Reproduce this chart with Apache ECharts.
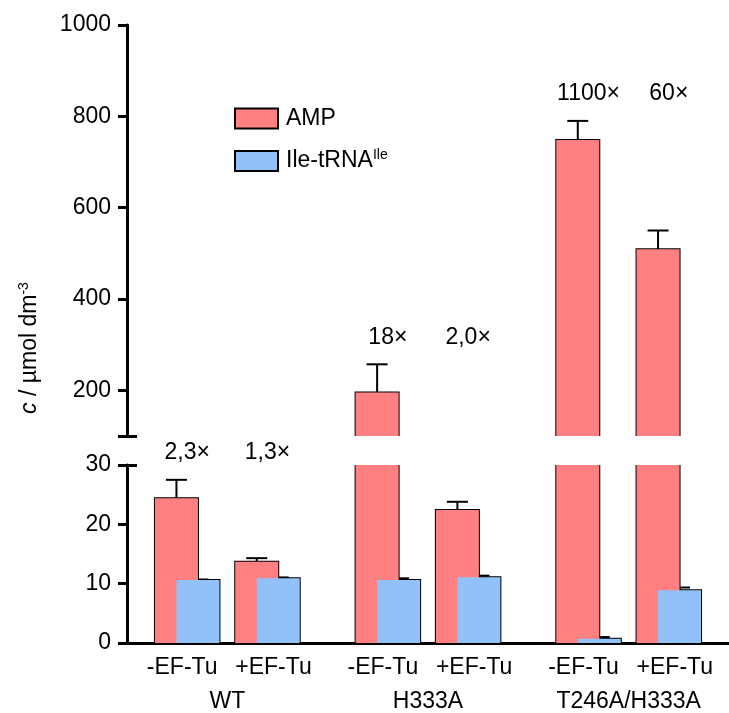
<!DOCTYPE html>
<html>
<head>
<meta charset="utf-8">
<script src="https://cdn.jsdelivr.net/npm/echarts@6/dist/echarts.min.js"></script>
<style>
html, body { margin: 0; padding: 0; background: #fff; }
#chart { width: 729px; height: 713px; }
</style>
</head>
<body>
<div id="chart"></div>
<script>
// values
const groups = ['WT', 'H333A', 'T246A/H333A']
const conditions = ['-EF-Tu', '+EF-Tu']
const ampValues = [24.4, 13.7, 195, 22.4, 748, 509]
const ampErrors = [3.1, 0.6, 62, 1.4, 42, 41]
const ileValues = [10.6, 10.9, 10.6, 11.1, 0.7, 8.9]
const ileErrors = [0.1, 0.15, 0.3, 0.25, 0.3, 0.45]
const foldLabels = ['2,3×', '1,3×', '18×', '2,0×', '1100×', '60×']
const upperTicks = [200, 400, 600, 800, 1000]
const upperRange = [100, 1000]
const lowerRange = [0, 30]

const FONT = 'Liberation Sans, Arial, sans-serif'
const FS = 23
const RED = '#ff8080'
const BLUE = '#92c0f8'
const BAR_WIDTH = 43
const CAP = 21
const SLOTS = 15

// each group takes 5 slots: gap, -EF-Tu, centre, +EF-Tu, gap
const slotOf = (i) => 1 + 5 * Math.floor(i / 2) + 2 * (i % 2)
const groupSlot = (g) => 2 + 5 * g

const conditionAxis = new Array(SLOTS).fill('')
const groupAxis = new Array(SLOTS).fill('')
const ampData = new Array(SLOTS).fill('-')
const ileData = new Array(SLOTS).fill('-')
groups.forEach((g, gi) => { groupAxis[groupSlot(gi)] = g })
ampValues.forEach((v, i) => {
  conditionAxis[slotOf(i)] = conditions[i % 2]
  ampData[slotOf(i)] = v
  ileData[slotOf(i)] = ileValues[i]
})
const ampOutline = ampValues.map((v, i) => [slotOf(i), v])
const ileOutline = ileValues.map((v, i) => [slotOf(i), v])

// error bars: [slot, value, error, side]
const errUpper = []
const errLower = []
ampValues.forEach((v, i) => {
  const item = [slotOf(i), v, ampErrors[i], -1];
  (v >= upperRange[0] ? errUpper : errLower).push(item)
  errLower.push([slotOf(i), ileValues[i], ileErrors[i], 1])
})

// fold labels sit above the highest error cap of their group
const foldUpper = []
const foldLower = []
foldLabels.forEach((t, i) => {
  const g = Math.floor(i / 2)
  let top = 0
  for (let k = 2 * g; k < 2 * g + 2; k++) {
    top = Math.max(top, ampValues[k] + ampErrors[k], ileValues[k] + ileErrors[k])
  }
  const item = { value: [slotOf(i), top], name: t };
  (top >= upperRange[0] ? foldUpper : foldLower).push(item)
})

// bar border drawn as open outline so the axis break leaves no edge
const outlineItem = (side) => (params, api) => {
  const slot = api.value(0)
  const top = api.coord([slot, api.value(1)])
  const bottom = api.coord([slot, 0])
  const cx = top[0] + side * BAR_WIDTH / 4
  const l = cx - BAR_WIDTH / 2
  const r = cx + BAR_WIDTH / 2
  return {
    type: 'polyline',
    shape: { points: [[l, bottom[1]], [l, top[1]], [r, top[1]], [r, bottom[1]]] },
    style: { stroke: '#000', lineWidth: 2, fill: null }
  }
}

function errorBarItem(params, api) {
  const slot = api.value(0)
  const v = api.value(1)
  const e = api.value(2)
  const side = api.value(3)
  const base = api.coord([slot, v])
  const tip = api.coord([slot, v + e])
  const x = base[0] + side * BAR_WIDTH / 4
  const style = { stroke: '#000', lineWidth: 2 }
  return {
    type: 'group',
    children: [
      { type: 'line', shape: { x1: x, y1: base[1], x2: x, y2: tip[1] }, style },
      { type: 'line', shape: { x1: x - CAP / 2, y1: tip[1], x2: x + CAP / 2, y2: tip[1] }, style }
    ]
  }
}

const foldItem = (list) => (params, api) => {
  const p = api.coord([api.value(0), api.value(1)])
  return {
    type: 'text',
    x: p[0],
    y: p[1] - 27,
    style: {
      text: list[params.dataIndex].name,
      font: FS + 'px ' + FONT,
      fill: '#000',
      align: 'center',
      verticalAlign: 'middle'
    }
  }
}

const axisLineStyle = { color: '#000', width: 3 }

function barPair(xi, yi) {
  return [
    { name: 'AMP', type: 'bar', xAxisIndex: xi, yAxisIndex: yi, data: ampData, barWidth: BAR_WIDTH, barGap: '-50%', itemStyle: { color: RED } },
    { type: 'custom', xAxisIndex: xi, yAxisIndex: yi, data: ampOutline, renderItem: outlineItem(-1), clip: true },
    { name: 'Ile-tRNA', type: 'bar', xAxisIndex: xi, yAxisIndex: yi, data: ileData, barWidth: BAR_WIDTH, barGap: '-50%', itemStyle: { color: BLUE } },
    { type: 'custom', xAxisIndex: xi, yAxisIndex: yi, data: ileOutline, renderItem: outlineItem(1), clip: true }
  ]
}

const chart = echarts.init(document.getElementById('chart'))
chart.setOption({
  animation: false,
  textStyle: { fontFamily: FONT },
  grid: [
    { left: 127, top: 25, width: 615, height: 411 },
    { left: 127, top: 465, width: 615, height: 178 }
  ],
  legend: {
    left: 229,
    top: 102,
    orient: 'vertical',
    icon: 'rect',
    itemWidth: 43,
    itemHeight: 20,
    itemGap: 18,
    data: ['AMP', 'Ile-tRNA'],
    itemStyle: { borderColor: '#000', borderWidth: 2 },
    formatter: (name) => name === 'Ile-tRNA' ? '{b|Ile-tRNA}{s|Ile}' : '{b|' + name + '}',
    textStyle: {
      color: '#000',
      padding: [0, 0, 0, 3],
      rich: {
        b: { fontSize: FS, fontFamily: FONT, color: '#000', lineHeight: 26 },
        s: { fontSize: 14, fontFamily: FONT, color: '#000', verticalAlign: 'top', lineHeight: 26, padding: [0, 0, 8, 0] }
      }
    }
  },
  graphic: [{
    type: 'text',
    x: 30,
    y: 348,
    rotation: Math.PI / 2,
    style: {
      text: '{i|c} / µmol dm{s|-3}',
      align: 'center',
      verticalAlign: 'middle',
      rich: {
        i: { fontSize: FS, fontFamily: FONT, fontStyle: 'italic', fill: '#000', lineHeight: 26 },
        s: { fontSize: 14, fontFamily: FONT, fill: '#000', verticalAlign: 'top', lineHeight: 26, padding: [0, 0, 8, 0] }
      },
      font: FS + 'px ' + FONT,
      fill: '#000'
    }
  }],
  xAxis: [
    { gridIndex: 0, type: 'category', data: conditionAxis, show: false },
    {
      gridIndex: 1,
      type: 'category',
      data: conditionAxis,
      axisLine: { lineStyle: axisLineStyle },
      axisTick: {
        alignWithLabel: true,
        length: 9,
        lineStyle: axisLineStyle,
        interval: (i) => groups.some((g, gi) => groupSlot(gi) === i)
      },
      axisLabel: {
        interval: 0,
        color: '#000',
        fontSize: FS,
        margin: 13,
        formatter: (v) => v === conditions[0] ? '{m|' + v + '}' : v === conditions[1] ? '{p|' + v + '}' : '',
        rich: {
          m: { fontSize: FS, fontFamily: FONT, color: '#000', padding: [0, 10, 0, 0] },
          p: { fontSize: FS, fontFamily: FONT, color: '#000', padding: [0, 0, 0, 12] }
        }
      }
    },
    {
      gridIndex: 1,
      type: 'category',
      data: groupAxis,
      position: 'bottom',
      offset: 34,
      axisLine: { show: false },
      axisTick: { show: false },
      axisLabel: { interval: 0, color: '#000', fontSize: FS, margin: 13 }
    }
  ],
  yAxis: [
    {
      gridIndex: 0,
      type: 'value',
      position: 'left',
      min: upperRange[0],
      max: upperRange[1],
      splitLine: { show: false },
      axisLine: { show: true, lineStyle: axisLineStyle },
      axisTick: { show: true, length: 9, lineStyle: axisLineStyle, customValues: [upperRange[0]].concat(upperTicks) },
      axisLabel: { color: '#000', fontSize: FS, margin: 16, customValues: upperTicks, formatter: (v) => String(v) }
    },
    {
      gridIndex: 0,
      type: 'value',
      position: 'left',
      min: upperRange[0],
      max: upperRange[1],
      splitLine: { show: false },
      axisLine: { show: false },
      axisLabel: { show: false },
      axisTick: { show: true, inside: true, length: 10, lineStyle: axisLineStyle, customValues: [upperRange[0]] }
    },
    {
      gridIndex: 1,
      type: 'value',
      position: 'left',
      min: lowerRange[0],
      max: lowerRange[1],
      interval: 10,
      splitLine: { show: false },
      axisLine: { show: true, lineStyle: axisLineStyle },
      axisTick: { show: true, length: 9, lineStyle: axisLineStyle },
      axisLabel: { color: '#000', fontSize: FS, margin: 16 }
    },
    {
      gridIndex: 1,
      type: 'value',
      position: 'left',
      min: lowerRange[0],
      max: lowerRange[1],
      splitLine: { show: false },
      axisLine: { show: false },
      axisLabel: { show: false },
      axisTick: { show: true, inside: true, length: 10, lineStyle: axisLineStyle, customValues: [lowerRange[1]] }
    }
  ],
  series: [
    ...barPair(0, 0),
    ...barPair(1, 2),
    { type: 'custom', xAxisIndex: 0, yAxisIndex: 0, data: errUpper, renderItem: errorBarItem, clip: false },
    { type: 'custom', xAxisIndex: 1, yAxisIndex: 2, data: errLower, renderItem: errorBarItem, clip: false },
    { type: 'custom', xAxisIndex: 0, yAxisIndex: 0, data: foldUpper, renderItem: foldItem(foldUpper), clip: false },
    { type: 'custom', xAxisIndex: 1, yAxisIndex: 2, data: foldLower, renderItem: foldItem(foldLower), clip: false }
  ]
})
</script>
</body>
</html>
